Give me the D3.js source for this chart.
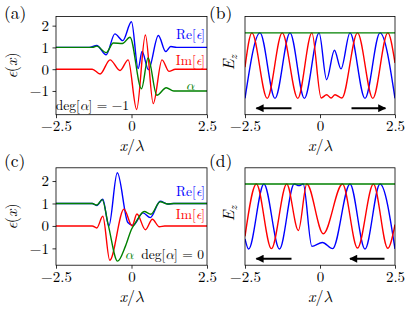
<!DOCTYPE html>
<html>
<head>
<meta charset="utf-8">
<script src="https://cdn.jsdelivr.net/npm/d3@7"></script>
<style>
  body { margin: 0; background: #fff; }
  svg text { font-family: "Latin Modern Roman", "Latin Modern Math", "Liberation Serif", serif !important; }
</style>
</head>
<body>
<div id="fig"></div>
<script>
const xTicks = [-2.5, 0, 2.5];
const xTickLabels = ["\u22122.5", "0", "2.5"];
const epsTicks = [-1, 0, 1, 2];
const epsTickLabels = ["\u22121", "0", "1", "2"];

// (a) deg[alpha] = -1 : [x/lambda, value]
const reA = [[-2.5,1],[-1.4,1],[-1.15,1.09],[-0.84,0.66],[-0.55,1.62],[-0.29,1.31],[0.0,2.18],[0.22,0.03],[0.35,0.81],[0.56,-0.02],[0.89,1.55],[1.13,0.81],[1.3,1.04],[1.5,1],[2.5,1]];
const imA = [[-2.5,0],[-1.3,0],[-1.04,-0.22],[-0.71,0.43],[-0.38,-0.06],[-0.11,0.43],[0.17,-1.85],[0.46,1.57],[0.72,-1.58],[1.01,0.43],[1.24,-0.1],[1.45,0],[2.5,0]];
const alA = [[-2.5,1],[-1.3,1],[-1.15,1.06],[-0.84,0.76],[-0.6,1.2],[-0.3,1.18],[-0.05,1.47],[0.33,-0.9],[0.55,0.52],[0.84,-1.2],[1.15,-0.85],[1.4,-1.0],[2.5,-1]];

// (b) field for (a)
const reB = [[-2.5,-1],[-2.0,1],[-1.5,-1],[-1.0,1],[-0.52,-1],[-0.03,1],[0.22,-0.43],[0.48,0.47],[0.7,-0.1],[1.0,1],[1.5,-1],[2.0,1],[2.5,-1]];
const imB = [[-2.5,-0.05],[-2.27,1],[-1.76,-1],[-1.26,1],[-0.74,-1],[-0.27,1],[0.04,-0.99],[0.22,-0.89],[0.37,-0.99],[0.5,-0.89],[0.73,-0.99],[1.25,1],[1.76,-1],[2.26,1],[2.5,0.08]];
const absB = [[-2.5,1],[2.5,1]];

// (c) deg[alpha] = 0
const reC = [[-2.5,1],[-1.3,1],[-1.15,0.91],[-0.95,1.19],[-0.75,0.0],[-0.47,2.37],[-0.12,0.15],[0.05,0.02],[0.38,0.58],[0.62,0.37],[0.95,1.1],[1.2,0.98],[1.4,1],[2.5,1]];
const imC = [[-2.5,0],[-1.3,0],[-1.15,-0.09],[-0.95,0.43],[-0.72,-1.53],[-0.25,0.75],[0.02,0.0],[0.18,0.53],[0.46,-0.17],[0.69,0.3],[0.92,-0.04],[1.1,0],[2.5,0]];
const alC = [[-2.5,1],[-1.3,1],[-1.15,0.93],[-0.97,1.17],[-0.77,0.05],[-0.46,-1.57],[-0.2,-0.9],[0.0,-0.15],[0.15,0.18],[0.42,0.64],[0.64,0.52],[0.95,1.08],[1.2,0.98],[1.4,1],[2.5,1]];

// (d) field for (c)
const reD = [[-2.5,-0.69],[-2.38,-1],[-1.87,1],[-1.35,-1],[-0.86,1],[-0.7,0.95],[-0.56,1],[-0.27,-0.92],[0.08,-0.8],[0.42,-0.99],[1.0,1],[1.5,-1],[2.0,1],[2.5,-1]];
const imD = [[-2.5,-0.61],[-2.12,1],[-1.62,-0.99],[-1.11,1],[-0.72,-0.43],[-0.44,1],[0.11,-0.53],[0.75,1],[1.25,-0.97],[1.78,1],[2.26,-0.98],[2.5,-0.25]];
const absD = [[-2.5,1],[2.5,1]];

// arrows [x0, x1] at height arrowY
const arrowsB = [[-0.95,-2.12],[1.05,2.18]];
const arrowsD = [[-0.95,-2.12],[2.15,1.0]];
const arrowY = -1.3;

const svg = d3.select("#fig").append("svg")
    .attr("width", 415)
    .attr("height", 317);

const defs = svg.append("defs");
defs.append("marker")
    .attr("id", "head")
    .attr("viewBox", "0 0 10 10")
    .attr("refX", 9).attr("refY", 5)
    .attr("markerUnits", "userSpaceOnUse")
    .attr("markerWidth", 11).attr("markerHeight", 8)
    .attr("orient", "auto")
  .append("path")
    .attr("d", "M0,0 L10,5 L0,10 Z")
    .attr("fill", "#000");

function makePanel(left, right, top, bottom, yDomain, showY) {
    const x = d3.scaleLinear().domain([-2.5, 2.5]).range([left, right]);
    const y = d3.scaleLinear().domain(yDomain).range([bottom, top]);
    const g = svg.append("g");

    const clipId = "clip" + Math.round(left) + "_" + Math.round(top);
    defs.append("clipPath").attr("id", clipId)
      .append("rect")
        .attr("x", left).attr("y", top)
        .attr("width", right - left).attr("height", bottom - top);
    const plot = g.append("g").attr("clip-path", `url(#${clipId})`);

    // x axis
    g.append("g")
        .attr("transform", `translate(0,${bottom})`)
        .call(d3.axisBottom(x).tickValues(xTicks).tickSize(3.5).tickPadding(2.5)
            .tickFormat((d, i) => xTickLabels[i]))
        .call(a => a.select(".domain").remove())
        .call(a => a.selectAll("line").attr("stroke-width", 0.8))
        .call(a => a.selectAll("text").attr("font-size", 15).attr("fill", "#000"));

    if (showY) {
        g.append("g")
            .attr("transform", `translate(${left},0)`)
            .call(d3.axisLeft(y).tickValues(epsTicks).tickSize(3.5).tickPadding(3.5)
                .tickFormat((d, i) => epsTickLabels[i]))
            .call(a => a.select(".domain").remove())
            .call(a => a.selectAll("line").attr("stroke-width", 0.8))
            .call(a => a.selectAll("text").attr("font-size", 15).attr("fill", "#000"));
    }

    // x label
    const xl = g.append("text")
        .attr("x", (left + right) / 2).attr("y", bottom + 36.5)
        .attr("text-anchor", "middle").attr("font-size", 16);
    xl.append("tspan").attr("font-style", "italic").text("x");
    xl.append("tspan").text("/");
    xl.append("tspan").attr("font-style", "italic").text("\u03bb");

    return { g, plot, x, y, left, right, top, bottom };
}

function drawLine(p, data, color) {
    const line = d3.line()
        .x(d => p.x(d[0]))
        .y(d => p.y(d[1]))
        .curve(d3.curveMonotoneX);
    p.plot.append("path")
        .datum(data)
        .attr("fill", "none")
        .attr("stroke", color)
        .attr("stroke-width", 1.4)
        .attr("d", line);
}

function frame(p) {
    p.g.append("rect")
        .attr("x", p.left).attr("y", p.top)
        .attr("width", p.right - p.left).attr("height", p.bottom - p.top)
        .attr("fill", "none").attr("stroke", "#000").attr("stroke-width", 0.8);
}

function epsLabel(p, x, y, main, color) {
    const t = p.g.append("text")
        .attr("x", x).attr("y", y)
        .attr("text-anchor", "end")
        .attr("font-size", 13.5)
        .attr("fill", color);
    t.append("tspan").text(main + "[");
    t.append("tspan").attr("font-style", "italic").text("\u03f5");
    t.append("tspan").text("]");
}

function degLabel(p, x, y, val) {
    const t = p.g.append("text")
        .attr("x", x).attr("y", y)
        .attr("text-anchor", "end")
        .attr("font-size", 13.5)
        .attr("fill", "#000");
    t.append("tspan").text("deg[");
    t.append("tspan").attr("font-style", "italic").text("\u03b1");
    t.append("tspan").text("] = " + val);
}

function alphaLabel(p, x, y) {
    p.g.append("text")
        .attr("x", x).attr("y", y)
        .attr("text-anchor", "middle")
        .attr("font-size", 13.5)
        .attr("font-style", "italic")
        .attr("fill", "green")
        .text("\u03b1");
}

function epsYLabel(p) {
    const cy = (p.top + p.bottom) / 2;
    const t = p.g.append("text")
        .attr("transform", `translate(17,${cy}) rotate(-90)`)
        .attr("text-anchor", "middle").attr("font-size", 16);
    t.append("tspan").attr("font-style", "italic").text("\u03f5");
    t.append("tspan").text("(");
    t.append("tspan").attr("font-style", "italic").text("x");
    t.append("tspan").text(")");
}

function ezLabel(p) {
    const cy = (p.top + p.bottom) / 2 - 3;
    const t = p.g.append("text")
        .attr("transform", `translate(234,${cy}) rotate(-90)`)
        .attr("text-anchor", "middle").attr("font-size", 16)
        .attr("font-style", "italic");
    t.append("tspan").text("E");
    t.append("tspan").attr("font-size", 11).attr("dy", 3).text("z");
}

function arrows(p, list) {
    list.forEach(a => {
        p.g.append("line")
            .attr("x1", p.x(a[0])).attr("x2", p.x(a[1]))
            .attr("y1", p.y(arrowY)).attr("y2", p.y(arrowY))
            .attr("stroke", "#000").attr("stroke-width", 2)
            .attr("marker-end", "url(#head)");
    });
}

function panelTag(x, y, s) {
    svg.append("text").attr("x", x).attr("y", y)
        .attr("font-size", 17.5).text(s);
}

// ---- (a)
const pa = makePanel(56, 207, 16.5, 114.7, [-2.09, 2.42], true);
drawLine(pa, reA, "blue");
drawLine(pa, imA, "red");
drawLine(pa, alA, "green");
frame(pa);
epsLabel(pa, 205, 39, "Re", "blue");
epsLabel(pa, 205, 65, "Im", "red");
alphaLabel(pa, 190, 90);
degLabel(pa, 129, 110, "\u22121");
epsYLabel(pa);

// ---- (b)
const pb = makePanel(245, 395, 16.5, 114.7, [-1.5, 1.5], false);
drawLine(pb, reB, "blue");
drawLine(pb, imB, "red");
drawLine(pb, absB, "green");
frame(pb);
arrows(pb, arrowsB);
ezLabel(pb);

// ---- (c)
const pc = makePanel(56, 207, 167.8, 265.2, [-1.75, 2.59], true);
drawLine(pc, reC, "blue");
drawLine(pc, imC, "red");
drawLine(pc, alC, "green");
frame(pc);
epsLabel(pc, 205, 196, "Re", "blue");
epsLabel(pc, 205, 219, "Im", "red");
alphaLabel(pc, 129, 259);
degLabel(pc, 204, 259, "0");
epsYLabel(pc);

// ---- (d)
const pd = makePanel(245, 395, 167.8, 265.2, [-1.5, 1.5], false);
drawLine(pd, reD, "blue");
drawLine(pd, imD, "red");
drawLine(pd, absD, "green");
frame(pd);
arrows(pd, arrowsD);
ezLabel(pd);

panelTag(4, 19, "(a)");
panelTag(209, 19, "(b)");
panelTag(4, 167, "(c)");
panelTag(209, 167, "(d)");
</script>
</body>
</html>
